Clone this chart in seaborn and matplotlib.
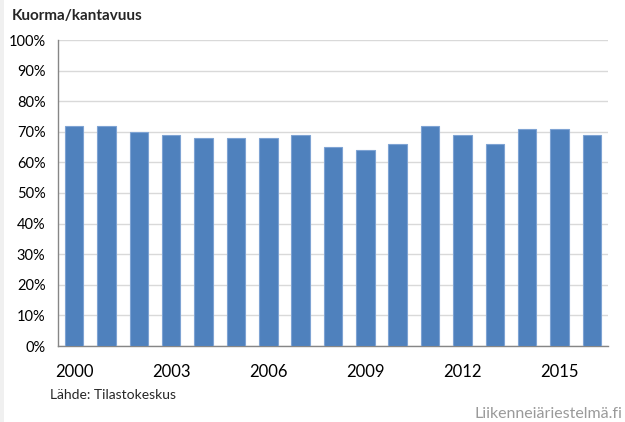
import numpy as np
import seaborn as sns
import matplotlib.pyplot as plt
from matplotlib.patches import Rectangle
from matplotlib.ticker import PercentFormatter

years = [str(y) for y in range(2000, 2017)]
values = [72, 72, 70, 69, 68, 68, 68, 69, 65, 64, 66, 72, 69, 66, 71, 71, 69]
tick_years = ['2000', '2003', '2006', '2009', '2012', '2015']

sns.set_style('white')
plt.rcParams['font.family'] = ['Lato', 'DejaVu Sans']

fig = plt.figure(figsize=(6.25, 4.22), dpi=100)
fig.patch.set_facecolor('white')
# thin grey strip on the left edge
fig.patches.append(Rectangle((0, 0), 4/625, 1, transform=fig.transFigure,
                             facecolor='#f0f0f0', edgecolor='none', zorder=-1))
ax = fig.add_axes([58/625, 1 - 346/422, 550/625, 306/422])
ax.set_facecolor('white')

sns.barplot(x=years, y=values, color='#4f81bd', saturation=1, width=0.57,
            edgecolor='#7ea3d3', linewidth=0.8, ax=ax, zorder=3)

ax.set_ylim(0, 100)
ax.set_xlim(-0.5, 16.5)
ax.set_yticks(np.arange(0, 101, 10))
ax.yaxis.set_major_formatter(PercentFormatter(decimals=0))
ax.yaxis.grid(True, color='#d9d9d9', linewidth=1, zorder=0)
ax.set_xticks([years.index(t) for t in tick_years])
ax.set_xticklabels(tick_years)
ax.tick_params(axis='y', length=0, pad=9, labelsize=10.5, colors='black')
ax.tick_params(axis='x', length=0, pad=13, labelsize=12, colors='black')
ax.set_xlabel('')
ax.set_ylabel('')
for s in ['top', 'right']:
    ax.spines[s].set_visible(False)
for s in ['left', 'bottom']:
    ax.spines[s].set_color('#868686')
    ax.spines[s].set_linewidth(1)

fig.text(12/625, 1 - 16/422, 'Kuorma/kantavuus', fontsize=11, fontweight='bold',
         va='center', ha='left')
fig.text(50/625, 1 - 395/422, 'Lähde: Tilastokeskus', fontsize=10,
         va='center', ha='left')
fig.text(622/625, 1 - 414/422, 'Liikenneiäriestelmä.fi', fontsize=11.5,
         color='#9a9a9a', va='center', ha='right')

fig.savefig('out.png', dpi=100)
